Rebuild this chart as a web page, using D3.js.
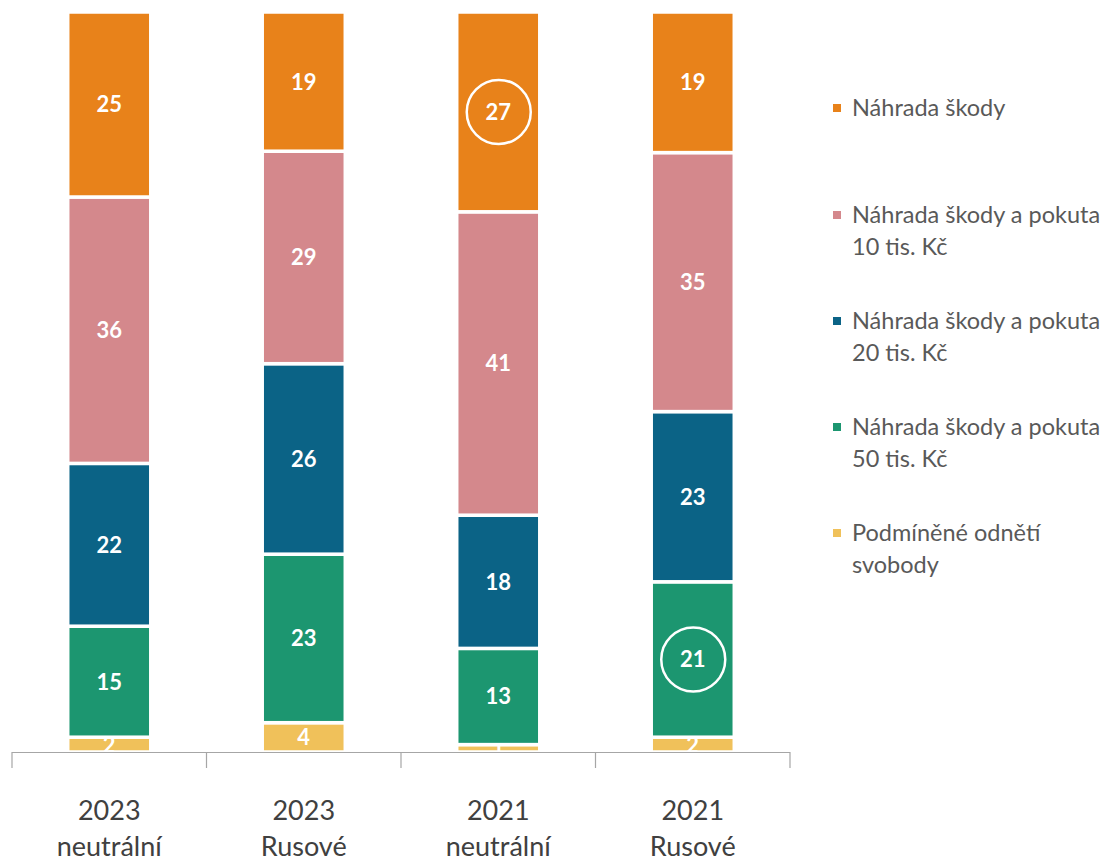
<!DOCTYPE html>
<html>
<head>
<meta charset="utf-8">
<script src="https://d3js.org/d3.v7.min.js"></script>
<style>
  body { margin: 0; background: #fff; }
  svg text { font-family: Lato, "Open Sans", sans-serif; }
</style>
</head>
<body>
<div id="chart"></div>
<script>
// categories (two lines each)
var groups = ["2023 neutrální", "2023 Rusové", "2021 neutrální", "2021 Rusové"];
var groupLines = [["2023", "neutrální"], ["2023", "Rusové"], ["2021", "neutrální"], ["2021", "Rusové"]];

// series, bottom to top
var seriesNames = ["Podmíněné odnětí svobody", "Náhrada škody a pokuta 50 tis. Kč",
                   "Náhrada škody a pokuta 20 tis. Kč", "Náhrada škody a pokuta 10 tis. Kč", "Náhrada škody"];
var seriesColors = ["#F0C15A", "#1C9670", "#0B6386", "#D4888C", "#E8821A"];

var podminene = [2, 4, 1, 2];
var pokuta50 = [15, 23, 13, 21];
var pokuta20 = [22, 26, 18, 23];
var pokuta10 = [36, 29, 41, 35];
var nahrada = [25, 19, 27, 19];

// legend, top to bottom
var legendLines = [["Náhrada škody"], ["Náhrada škody a pokuta", "10 tis. Kč"],
                   ["Náhrada škody a pokuta", "20 tis. Kč"], ["Náhrada škody a pokuta", "50 tis. Kč"],
                   ["Podmíněné odnětí", "svobody"]];
var legendColors = ["#E8821A", "#D4888C", "#0B6386", "#1C9670", "#F0C15A"];

// circled labels: [series index, group index]
var circled = [[4, 2], [1, 3]];

var width = 1113, height = 863;
var x0 = 12, x1 = 790, yTop = 12, yBase = 752;

var table = groups.map(function(g, i){
	return { group: g, s0: podminene[i], s1: pokuta50[i], s2: pokuta20[i], s3: pokuta10[i], s4: nahrada[i] };
});
var keys = ["s0", "s1", "s2", "s3", "s4"];

var stacked = d3.stack().keys(keys).offset(d3.stackOffsetExpand)(table);

var xScale = d3.scaleBand()
	.domain(groups)
	.range([x0, x1])
	.paddingInner(0.573)
	.paddingOuter(0.2865);

var yScale = d3.scaleLinear()
	.domain([0, 1])
	.range([yBase, yTop]);

var svg = d3.select("#chart").append("svg")
	.attr("width", width)
	.attr("height", height);

var layers = svg.selectAll(".layer")
	.data(stacked).enter().append("g")
	.attr("class", "layer")
	.attr("fill", function(d, i){ return seriesColors[i]; });

layers.selectAll("rect")
	.data(function(d){ return d; })
	.enter().append("rect")
	.attr("x", function(d){ return xScale(d.data.group); })
	.attr("y", function(d){ return yScale(d[1]); })
	.attr("width", xScale.bandwidth())
	.attr("height", function(d){ return yScale(d[0]) - yScale(d[1]); })
	.attr("stroke", "#fff")
	.attr("stroke-width", 3.5);

// value labels
layers.each(function(layer, si){
	d3.select(this).selectAll("text")
		.data(layer)
		.enter().append("text")
		.attr("x", function(d){ return xScale(d.data.group) + xScale.bandwidth() / 2; })
		.attr("y", function(d){ return (yScale(d[0]) + yScale(d[1])) / 2; })
		.attr("dy", "0.36em")
		.attr("text-anchor", "middle")
		.attr("fill", "#fff")
		.attr("font-weight", "bold")
		.attr("font-size", 22)
		.text(function(d){ return d.data[layer.key]; });
});

// circles
circled.forEach(function(c){
	var d = stacked[c[0]][c[1]];
	svg.append("circle")
		.attr("cx", xScale(d.data.group) + xScale.bandwidth() / 2 + 0.5)
		.attr("cy", (yScale(d[0]) + yScale(d[1])) / 2)
		.attr("r", 32)
		.attr("fill", "none")
		.attr("stroke", "#fff")
		.attr("stroke-width", 2.5);
});

// axis
var step = xScale.step();
var axis = svg.append("g");
axis.append("line")
	.attr("x1", x0).attr("x2", x1)
	.attr("y1", yBase + 0.5).attr("y2", yBase + 0.5)
	.attr("stroke", "#a6a6a6").attr("stroke-width", 1.2);
d3.range(groups.length + 1).forEach(function(i){
	var tx = x0 + i * step;
	axis.append("line")
		.attr("x1", tx).attr("x2", tx)
		.attr("y1", yBase).attr("y2", yBase + 16)
		.attr("stroke", "#a6a6a6").attr("stroke-width", 1.2);
});

groups.forEach(function(g, i){
	var t = svg.append("text")
		.attr("x", xScale(g) + xScale.bandwidth() / 2)
		.attr("y", 820)
		.attr("text-anchor", "middle")
		.attr("fill", "#404040")
		.attr("font-size", 27);
	groupLines[i].forEach(function(line, j){
		t.append("tspan")
			.attr("x", xScale(g) + xScale.bandwidth() / 2)
			.attr("dy", j === 0 ? 0 : 36)
			.text(line);
	});
});

// legend
var legendY = [108, 215, 321, 427, 533];
legendLines.forEach(function(lines, i){
	svg.append("rect")
		.attr("x", 833).attr("y", legendY[i] - 4)
		.attr("width", 8).attr("height", 8)
		.attr("fill", legendColors[i]);
	var t = svg.append("text")
		.attr("x", 852).attr("y", legendY[i])
		.attr("fill", "#595959")
		.attr("font-size", 23.5);
	lines.forEach(function(line, j){
		t.append("tspan")
			.attr("x", 852)
			.attr("dy", j === 0 ? "0.36em" : 32)
			.text(line);
	});
});
</script>
</body>
</html>
